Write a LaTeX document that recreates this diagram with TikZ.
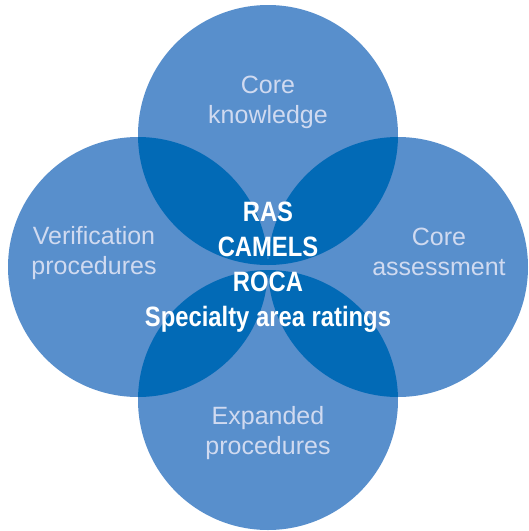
\documentclass[tikz,border=0pt]{standalone}
\usepackage{fontspec}
\setmainfont{Liberation Sans}
\newfontfamily\narrowbold[FakeStretch=0.85]{Liberation Sans Bold}
\definecolor{ringblue}{RGB}{88,143,204}
\definecolor{lensblue}{RGB}{2,106,182}
\definecolor{labelgray}{RGB}{208,218,240}

\tikzset{every picture/.style={line width=0.75pt}}
\tikzset{
  outer label/.style={text=labelgray,align=center,font=\fontsize{25}{30}\selectfont},
  inner label/.style={text=white,align=center,font=\narrowbold\fontsize{28}{35}\selectfont}
}

\begin{document}
\begin{tikzpicture}[x=1pt,y=1pt,yscale=-1,xscale=1]
	\useasboundingbox (0,0) rectangle (529,531);

	\coordinate (top) at (268,135);
	\coordinate (left) at (138,267);
	\coordinate (right) at (398,267);
	\coordinate (bottom) at (268,400);

	%Shape: Circle 
	\fill [ringblue] (top) circle (130);
	\fill [ringblue] (left) circle (130);
	\fill [ringblue] (right) circle (130);
	\fill [ringblue] (bottom) circle (130);

	%Shape: lenses where two circles overlap
	\foreach \a/\b in {top/left,top/right,bottom/left,bottom/right}{
		\begin{scope}
			\clip (\a) circle (130);
			\fill [lensblue] (\b) circle (130);
		\end{scope}
	}

	% Text Node
	\node [outer label] (knowledge) at (268,102) {Core\\knowledge};
	% Text Node
	\node [outer label] (verification) at (94,253) {Verification\\procedures};
	% Text Node
	\node [outer label] (assessment) at (439,252) {Core\\assessment};
	% Text Node
	\node [outer label] (expanded) at (268,433) {Expanded\\procedures};
	% Text Node
	\node [inner label] (ratings) at (268,267) {RAS\\CAMELS\\ROCA\\Specialty area ratings};

\end{tikzpicture}
\end{document}
